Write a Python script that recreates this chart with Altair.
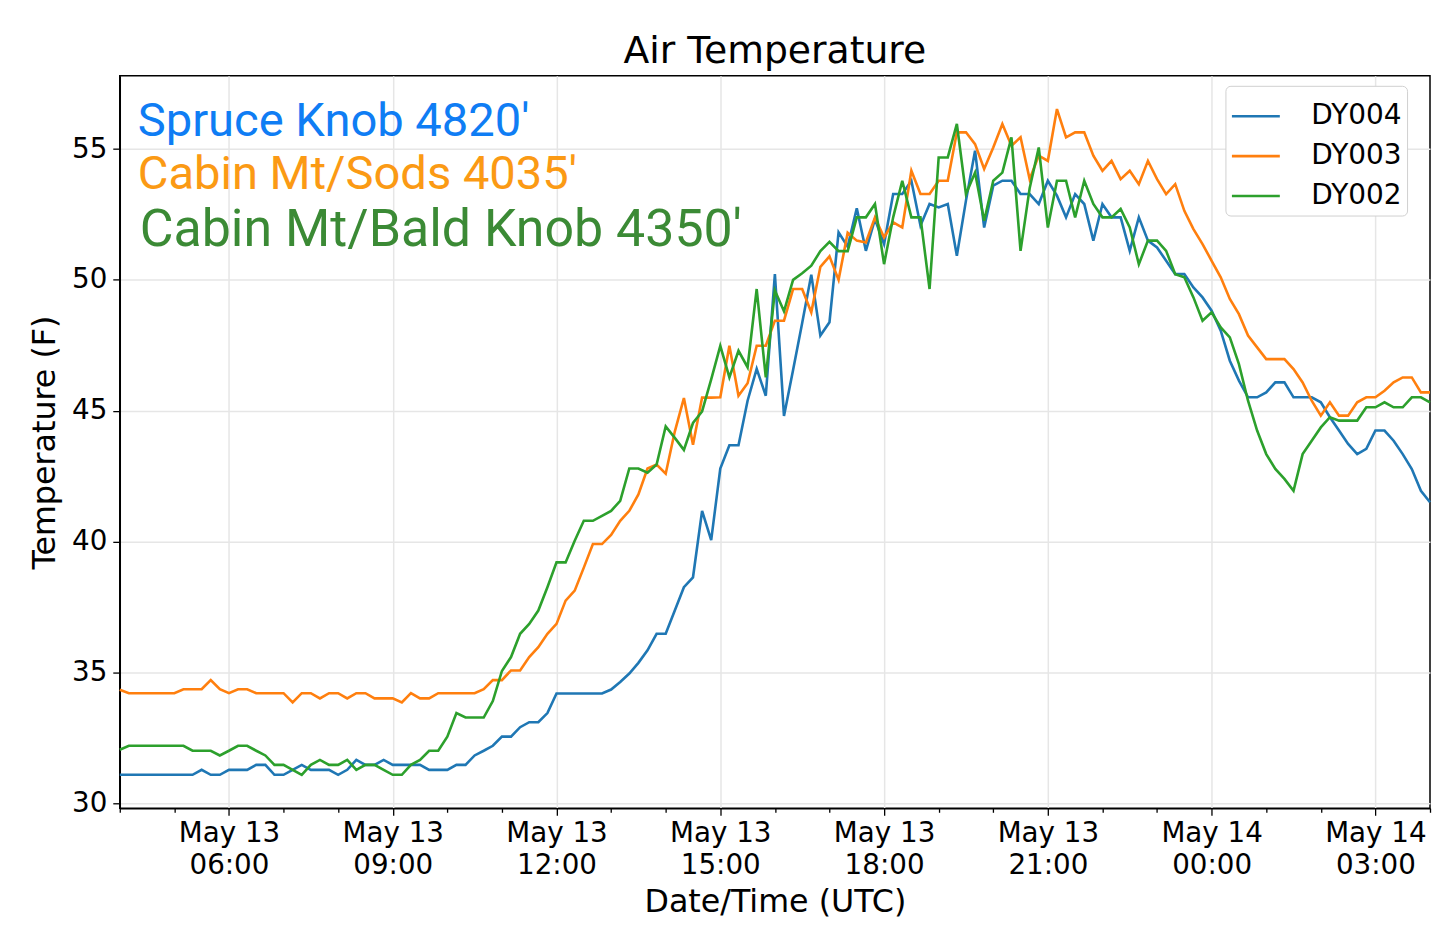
import altair as alt
import pandas as pd

# --- series (10-minute air temperature, deg F) ---
station_names = ["DY004", "DY003", "DY002"]
station_colors = ["#1f77b4", "#ff7f0e", "#2ca02c"]

dy004 = [
    31.08, 31.08, 31.08, 31.08, 31.08, 31.08, 31.08, 31.08, 31.08, 31.27,
    31.08, 31.08, 31.27, 31.27, 31.27, 31.46, 31.46, 31.08, 31.08, 31.27,
    31.46, 31.27, 31.27, 31.27, 31.08, 31.27, 31.65, 31.46, 31.46, 31.65,
    31.46, 31.46, 31.46, 31.46, 31.27, 31.27, 31.27, 31.46, 31.46, 31.82,
    32.00, 32.19, 32.54, 32.54, 32.90, 33.09, 33.09, 33.44, 34.19, 34.19,
    34.19, 34.19, 34.19, 34.19, 34.34, 34.63, 34.95, 35.36, 35.84, 36.47,
    36.47, 37.36, 38.25, 38.63, 41.17, 40.05, 42.79, 43.68, 43.68, 45.38,
    46.60, 45.57, 50.22, 44.80, 46.55, 48.35, 50.20, 47.87, 48.38, 51.82,
    51.27, 52.74, 51.11, 52.32, 51.37, 53.28, 53.28, 53.79, 52.07, 52.90,
    52.77, 52.90, 50.92, 53.03, 54.94, 52.00, 53.60, 53.79, 53.79, 53.28,
    53.28, 52.90, 53.79, 53.22, 52.39, 53.28, 52.90, 51.50, 52.90, 52.39,
    52.39, 51.11, 52.39, 51.50, 51.24, 50.73, 50.22, 50.22, 49.71, 49.33,
    48.82, 48.06, 46.91, 46.15, 45.51, 45.51, 45.70, 46.08, 46.08, 45.51,
    45.51, 45.51, 45.32, 44.75, 44.24, 43.73, 43.34, 43.54, 44.24, 44.24,
    43.85, 43.34, 42.77, 41.94, 41.50,
]
dy003 = [
    34.33, 34.20, 34.20, 34.20, 34.20, 34.20, 34.20, 34.35, 34.35, 34.35,
    34.70, 34.35, 34.20, 34.35, 34.35, 34.20, 34.20, 34.20, 34.20, 33.85,
    34.20, 34.20, 34.00, 34.20, 34.20, 34.00, 34.20, 34.20, 34.00, 34.00,
    34.00, 33.85, 34.20, 34.00, 34.00, 34.20, 34.20, 34.20, 34.20, 34.20,
    34.35, 34.70, 34.70, 35.07, 35.07, 35.58, 35.96, 36.47, 36.85, 37.74,
    38.12, 39.00, 39.90, 39.90, 40.25, 40.79, 41.17, 41.80, 42.79, 42.94,
    42.59, 44.20, 45.48, 43.70, 45.50, 45.50, 45.51, 47.48, 45.57, 46.05,
    47.48, 47.48, 48.44, 48.44, 49.65, 49.65, 48.76, 50.50, 50.90, 50.00,
    51.80, 51.50, 51.43, 52.39, 51.62, 52.20, 52.00, 54.17, 53.28, 53.28,
    53.79, 53.79, 55.64, 55.64, 55.19, 54.24, 55.06, 55.96, 55.13, 55.45,
    53.85, 54.75, 54.55, 56.53, 55.45, 55.64, 55.64, 54.75, 54.17, 54.55,
    53.85, 54.17, 53.66, 54.55, 53.85, 53.28, 53.66, 52.64, 51.94, 51.37,
    50.73, 50.10, 49.27, 48.69, 47.87, 47.42, 46.97, 46.97, 46.97, 46.59,
    46.08, 45.38, 44.81, 45.32, 44.81, 44.81, 45.32, 45.51, 45.51, 45.76,
    46.08, 46.27, 46.27, 45.70, 45.70,
]
dy002 = [
    32.04, 32.19, 32.19, 32.19, 32.19, 32.19, 32.19, 32.19, 32.00, 32.00,
    32.00, 31.82, 32.00, 32.19, 32.19, 32.00, 31.82, 31.46, 31.46, 31.27,
    31.08, 31.46, 31.65, 31.46, 31.46, 31.65, 31.27, 31.46, 31.46, 31.27,
    31.08, 31.08, 31.46, 31.65, 32.00, 32.00, 32.54, 33.44, 33.27, 33.27,
    33.27, 33.90, 35.05, 35.58, 36.47, 36.85, 37.36, 38.25, 39.20, 39.20,
    40.03, 40.79, 40.79, 40.98, 41.17, 41.55, 42.79, 42.79, 42.63, 42.94,
    44.40, 43.96, 43.50, 44.53, 44.97, 46.20, 47.48, 46.27, 47.29, 46.66,
    49.65, 46.27, 49.59, 48.80, 50.00, 50.25, 50.54, 51.10, 51.45, 51.10,
    51.10, 52.39, 52.39, 52.90, 50.60, 52.39, 53.79, 52.39, 52.39, 49.65,
    54.68, 54.68, 55.96, 53.28, 54.10, 52.26, 53.79, 54.10, 55.45, 51.11,
    53.50, 55.06, 52.00, 53.79, 53.79, 52.39, 53.79, 52.90, 52.39, 52.39,
    52.71, 52.00, 50.60, 51.50, 51.50, 51.11, 50.22, 50.10, 49.33, 48.44,
    48.76, 48.18, 47.80, 46.78, 45.38, 44.24, 43.34, 42.77, 42.39, 41.94,
    43.34, 43.85, 44.36, 44.75, 44.62, 44.62, 44.62, 45.13, 45.13, 45.32,
    45.13, 45.13, 45.51, 45.51, 45.32,
]

# site annotations in the upper-left corner
site_labels = ["Spruce Knob 4820'", "Cabin Mt/Sods 4035'", "Cabin Mt/Bald Knob 4350'"]
site_colors = ["#0f7df4", "#fb9a14", "#3b8a35"]

# sample times every 10 minutes from 04:00 UTC
times = pd.date_range("2019-05-13 04:00", periods=len(dy004), freq="10min")
df = pd.DataFrame({
    "time": times.strftime("%Y-%m-%dT%H:%M:%SZ"),
    "DY004": dy004,
    "DY003": dy003,
    "DY002": dy002,
}).melt(id_vars="time", var_name="station", value_name="temp")

# labelled ticks every 3 hours, small ticks every hour
major = "utchours(datum.value) % 3 == 0"

x_enc = alt.X(
    "time:T",
    scale=alt.Scale(type="utc", nice=False),
    axis=alt.Axis(
        title="Date/Time (UTC)",
        tickCount=24,
        labelExpr=(
            f"{major} ? [utcFormat(datum.value, '%b %d'), "
            "utcFormat(datum.value, '%H:%M')] : ''"
        ),
        labelOverlap=False,
        labelBound=False,
        labelFlush=False,
        labelLineHeight=32,
        labelPadding=4,
        tickSize={"condition": {"test": major, "value": 7}, "value": 4},
        gridOpacity={"condition": {"test": major, "value": 1}, "value": 0},
        titlePadding=8,
    ),
)

y_enc = alt.Y(
    "temp:Q",
    scale=alt.Scale(domain=[29.8, 57.8], nice=False, zero=False),
    axis=alt.Axis(
        title="Temperature (F)",
        values=[30, 35, 40, 45, 50, 55],
        tickSize=7,
        labelPadding=6,
        titlePadding=10,
    ),
)

lines = (
    alt.Chart(df)
    .mark_line(strokeWidth=2.6)
    .encode(
        x=x_enc,
        y=y_enc,
        color=alt.Color(
            "station:N",
            scale=alt.Scale(domain=station_names, range=station_colors),
            legend=alt.Legend(
                title=None,
                orient="none",
                legendX=1108,
                legendY=10,
                symbolType="stroke",
                symbolSize=2304,
                symbolStrokeWidth=2.6,
                labelFontSize=28,
                labelFont="DejaVu Sans",
                labelColor="black",
                labelOffset=30,
                rowPadding=0,
                padding=5,
                strokeColor="#d0d0d0",
                fillColor="white",
                cornerRadius=5,
            ),
        ),
    )
)


def site_text(i, size, x, y):
    return (
        alt.Chart(pd.DataFrame({"label": [site_labels[i]]}))
        .mark_text(
            font="Roboto",
            fontSize=size,
            color=site_colors[i],
            align="left",
            baseline="alphabetic",
        )
        .encode(text="label:N", x=alt.value(x), y=alt.value(y))
    )


chart = (
    alt.layer(
        lines,
        site_text(0, 47.2, 18, 60),
        site_text(1, 47.2, 18, 113),
        site_text(2, 52, 20, 171),
    )
    .properties(
        width=1313,
        height=734,
        padding={"left": 112, "top": 67, "right": 2, "bottom": 120},
        autosize=alt.AutoSizeParams(type="none"),
        title=alt.TitleParams(
            "Air Temperature",
            fontSize=37.8,
            font="DejaVu Sans",
            fontWeight="normal",
            color="black",
            offset=5,
        ),
    )
    .configure_axis(
        labelFont="DejaVu Sans",
        titleFont="DejaVu Sans",
        labelFontSize=27.8,
        titleFontSize=31.8,
        titleFontWeight="normal",
        labelColor="black",
        titleColor="black",
        tickColor="black",
        tickWidth=1.3,
        domainColor="black",
        domainWidth=1.5,
        gridColor="#e6e6e6",
        gridWidth=1.5,
    )
    .configure_view(stroke="black", strokeWidth=1.5)
)

chart.save("out.html", embed_options={"renderer": "svg", "actions": False})
